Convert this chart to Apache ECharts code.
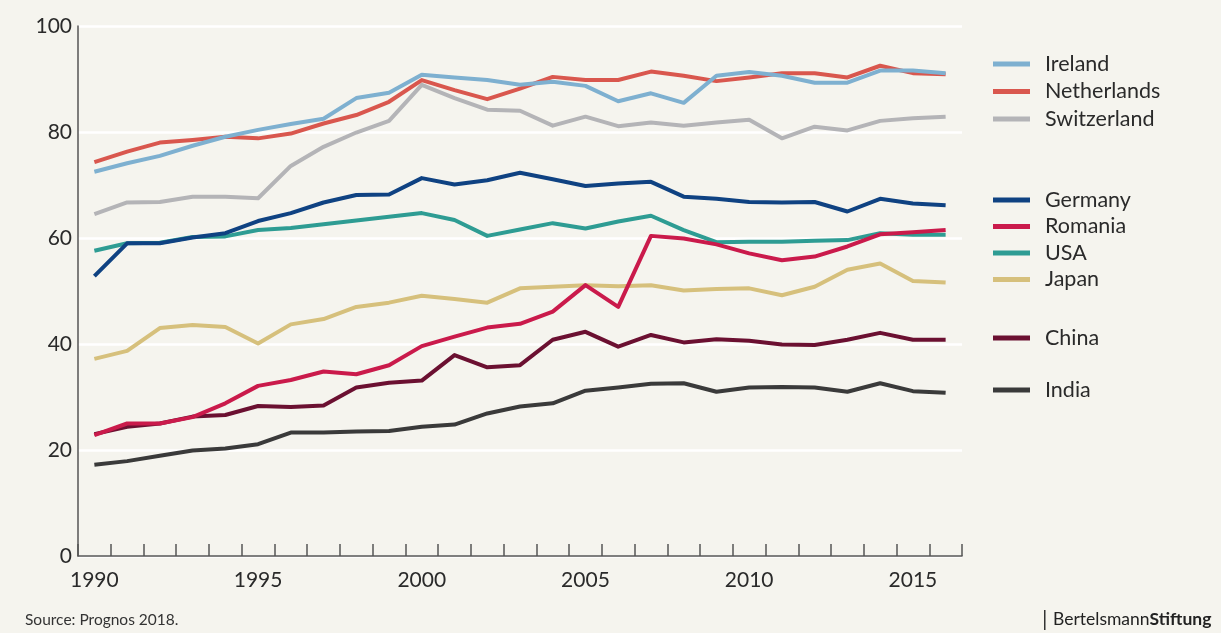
<!DOCTYPE html>
<html>
<head>
<meta charset="utf-8">
<script src="https://cdn.jsdelivr.net/npm/echarts@6/dist/echarts.min.js"></script>
<style>
html,body{margin:0;padding:0;background:#F5F4EE;}
#c{width:1221px;height:633px;}
</style>
</head>
<body>
<div id="c"></div>
<script>
const years = ['1990','1991','1992','1993','1994','1995','1996','1997','1998','1999','2000','2001','2002','2003','2004','2005','2006','2007','2008','2009','2010','2011','2012','2013','2014','2015','2016'];
const yTicks = [0,20,40,60,80,100];

const ireland     = [72.5,74.1,75.5,77.4,79.1,80.4,81.5,82.5,86.4,87.4,90.8,90.3,89.8,88.9,89.5,88.7,85.8,87.3,85.5,90.6,91.3,90.6,89.3,89.3,91.6,91.6,91.1];
const netherlands = [74.3,76.3,78.0,78.5,79.1,78.8,79.7,81.6,83.2,85.7,89.8,87.9,86.2,88.2,90.4,89.8,89.8,91.4,90.6,89.6,90.3,91.1,91.1,90.3,92.5,91.1,90.9];
const switzerland = [64.5,66.7,66.8,67.8,67.8,67.5,73.6,77.2,79.9,82.1,88.9,86.4,84.2,84.0,81.2,82.9,81.1,81.8,81.2,81.8,82.3,78.8,81.0,80.3,82.1,82.6,82.9];
const germany     = [52.8,59.0,59.0,60.1,60.9,63.2,64.7,66.7,68.1,68.2,71.3,70.1,70.9,72.3,71.1,69.8,70.3,70.6,67.8,67.4,66.8,66.7,66.8,65.0,67.4,66.5,66.2];
const romania     = [22.8,25.0,25.0,26.2,28.8,32.1,33.2,34.8,34.3,36.0,39.6,41.4,43.1,43.8,46.1,51.1,47.0,60.4,59.9,58.8,57.1,55.8,56.5,58.4,60.7,61.1,61.5];
const usa         = [57.6,59.0,59.1,60.2,60.3,61.5,61.9,62.6,63.3,64.0,64.7,63.4,60.4,61.6,62.8,61.8,63.1,64.2,61.5,59.2,59.3,59.3,59.5,59.6,60.9,60.6,60.6];
const japan       = [37.2,38.7,43.0,43.6,43.2,40.1,43.7,44.7,47.0,47.8,49.1,48.5,47.8,50.5,50.8,51.1,50.9,51.1,50.1,50.4,50.5,49.2,50.8,54.0,55.2,51.9,51.6];
const china       = [23.0,24.4,25.0,26.3,26.6,28.3,28.1,28.4,31.8,32.7,33.1,37.9,35.6,36.0,40.8,42.3,39.5,41.7,40.3,40.9,40.6,39.9,39.8,40.8,42.1,40.8,40.8];
const india       = [17.2,17.9,18.9,19.9,20.3,21.1,23.3,23.3,23.5,23.6,24.4,24.8,26.9,28.2,28.8,31.2,31.8,32.5,32.6,31.0,31.8,31.9,31.8,31.0,32.6,31.1,30.8];

const seriesDefs = [
  {name:'India', data:india, color:'#3A3A3A'},
  {name:'China', data:china, color:'#6B1031'},
  {name:'Japan', data:japan, color:'#D6C07C'},
  {name:'USA', data:usa, color:'#2E9C93'},
  {name:'Germany', data:germany, color:'#0F4282'},
  {name:'Switzerland', data:switzerland, color:'#B4B4B7'},
  {name:'Netherlands', data:netherlands, color:'#D9574E'},
  {name:'Ireland', data:ireland, color:'#7EB0D0'},
  {name:'Romania', data:romania, color:'#CA1A4B'}
];

const legendText = {fontFamily:'Lato', fontSize:21.5, color:'#2a2a2a', lineHeight:20, padding:[0,0,0,10]};
function mkLegend(names, top, gap){
  return {data:names, left:993, top:top, orient:'vertical', itemGap:gap, itemWidth:37, itemHeight:5,
    icon:'rect', selectedMode:false, textStyle:legendText, padding:0};
}

const chart = echarts.init(document.getElementById('c'), null, {renderer:'canvas'});
chart.setOption({
  backgroundColor:'#F5F4EE',
  animation:false,
  grid:{left:78, right:259, top:26, bottom:77},
  legend:[
    mkLegend(['Ireland','Netherlands','Switzerland'], 53, 5.5),
    mkLegend(['Germany','Romania','USA','Japan'], 189, 4.5),
    mkLegend(['China'], 327, 8),
    mkLegend(['India'], 379, 8)
  ],
  xAxis:{
    type:'category', data:years, boundaryGap:true,
    axisLine:{show:true, lineStyle:{color:'#555', width:1.5}},
    axisTick:{show:true, inside:true, length:12, interval:0, lineStyle:{color:'#555', width:1.5}},
    axisLabel:{interval:4, fontFamily:'Lato', fontSize:21, color:'#2a2a2a', margin:14},
    splitLine:{show:false}
  },
  yAxis:{
    type:'value', min:yTicks[0], max:yTicks[yTicks.length-1], interval:20,
    axisLine:{show:true, lineStyle:{color:'#555', width:1.5}},
    axisTick:{show:false},
    axisLabel:{fontFamily:'Lato', fontSize:21, color:'#2a2a2a', margin:6},
    splitLine:{show:true, lineStyle:{color:'#FFFFFF', width:2.5}}
  },
  series: seriesDefs.map(s => ({
    name:s.name, type:'line', data:s.data, symbol:'none', smooth:false,
    lineStyle:{color:s.color, width:4, join:'round'},
    itemStyle:{color:s.color}
  })),
  graphic:[
    {type:'text', left:25, top:612, style:{text:'Source: Prognos 2018.', font:'15.5px Lato', fill:'#333'}},
    {type:'rect', left:1044, top:610, shape:{width:1.5, height:20}, style:{fill:'#333'}},
    {type:'text', left:1053, top:610, style:{rich:{a:{font:'17.5px Lato', fill:'#222'}, b:{font:'bold 17.5px Lato', fill:'#222'}}, text:'{a|Bertelsmann}{b|Stiftung}'}}
  ]
});
</script>
</body>
</html>
